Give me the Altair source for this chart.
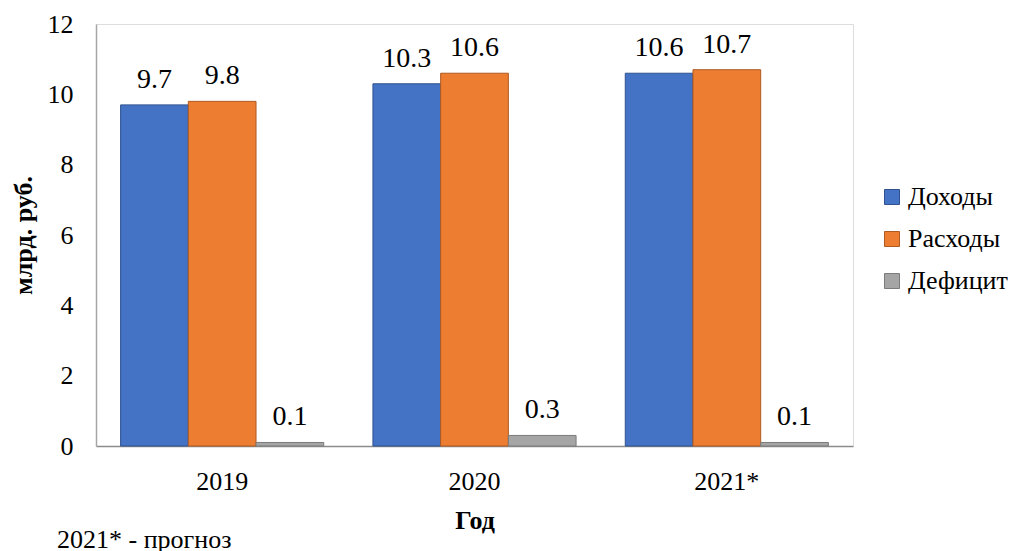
import altair as alt
import pandas as pd

years = ["2019", "2020", "2021*"]
series = ["Доходы", "Расходы", "Дефицит"]
income = [9.7, 10.3, 10.6]
expenses = [9.8, 10.6, 10.7]
deficit = [0.1, 0.3, 0.1]
fill_colors = ["#4472C4", "#ED7D31", "#A5A5A5"]
stroke_colors = ["#2F528F", "#AE5A21", "#7B7B7B"]
y_ticks = [0, 2, 4, 6, 8, 10, 12]
footnote = ["2021* - прогноз"]

rows = []
for s, vals in zip(series, [income, expenses, deficit]):
    for yr, v in zip(years, vals):
        rows.append({"Год": yr, "Серия": s, "Значение": v})
df = pd.DataFrame(rows)

FONT = "Liberation Serif"

x = alt.X(
    "Год:N", sort=years,
    scale=alt.Scale(paddingInner=0.195, paddingOuter=0.0975),
    axis=alt.Axis(title="Год", labelAngle=0, ticks=False, labelPadding=22,
                  domainColor="#8c8c8c", domainWidth=1.5,
                  labelFontSize=26, titleFontSize=26, titleFontWeight="bold",
                  titleX=378.5, titleY=82, titleBaseline="alphabetic",
                  labelColor="black", titleColor="black",
                  labelFont=FONT, titleFont=FONT),
)
xo = alt.XOffset("Серия:N", sort=series, scale=alt.Scale(paddingInner=0, paddingOuter=0))
y = alt.Y(
    "Значение:Q",
    scale=alt.Scale(domain=[0, 12], nice=False),
    axis=alt.Axis(values=y_ticks, title="млрд. руб.", grid=False, ticks=False,
                  labelPadding=23, domainColor="#a6a6a6", domainWidth=1.5,
                  labelFontSize=26, titleFontSize=26, titleFontWeight="bold",
                  titleX=-73, titleY=211, titleBaseline="middle",
                  labelColor="black", titleColor="black",
                  labelFont=FONT, titleFont=FONT),
)

legend = alt.Legend(title=None, orient="none", legendX=783, legendY=160,
                    symbolType="square", symbolSize=225, symbolStrokeWidth=1,
                    labelFontSize=26, labelFont=FONT, labelColor="black",
                    rowPadding=16, labelOffset=3, padding=0)

bars = alt.Chart(df).mark_bar(strokeWidth=1).encode(
    x=x, xOffset=xo, y=y,
    fill=alt.Fill("Серия:N", scale=alt.Scale(domain=series, range=fill_colors), legend=legend),
    stroke=alt.Stroke("Серия:N", scale=alt.Scale(domain=series, range=stroke_colors), legend=legend),
)

labels = alt.Chart(df).mark_text(font=FONT, fontSize=28, baseline="alphabetic", dy=-17,
                                 color="black").encode(
    x=x, xOffset=xo, y=y,
    text=alt.Text("Значение:Q", format=".1f"),
)

note = alt.Chart(pd.DataFrame({"t": footnote})).mark_text(
    font=FONT, fontSize=26, align="left", baseline="alphabetic", color="black"
).encode(x=alt.value(-39), y=alt.value(524), text="t:N")

chart = alt.layer(bars, labels, note).properties(
    width=757, height=422,
    padding={"left": 88, "top": 16, "right": 155, "bottom": 110},
    autosize=alt.AutoSizeParams(type="none"),
).configure_view(fill="#e7e7e7", stroke=None).configure(font=FONT)

chart.save("out.html", embed_options={"renderer": "svg", "actions": False})
